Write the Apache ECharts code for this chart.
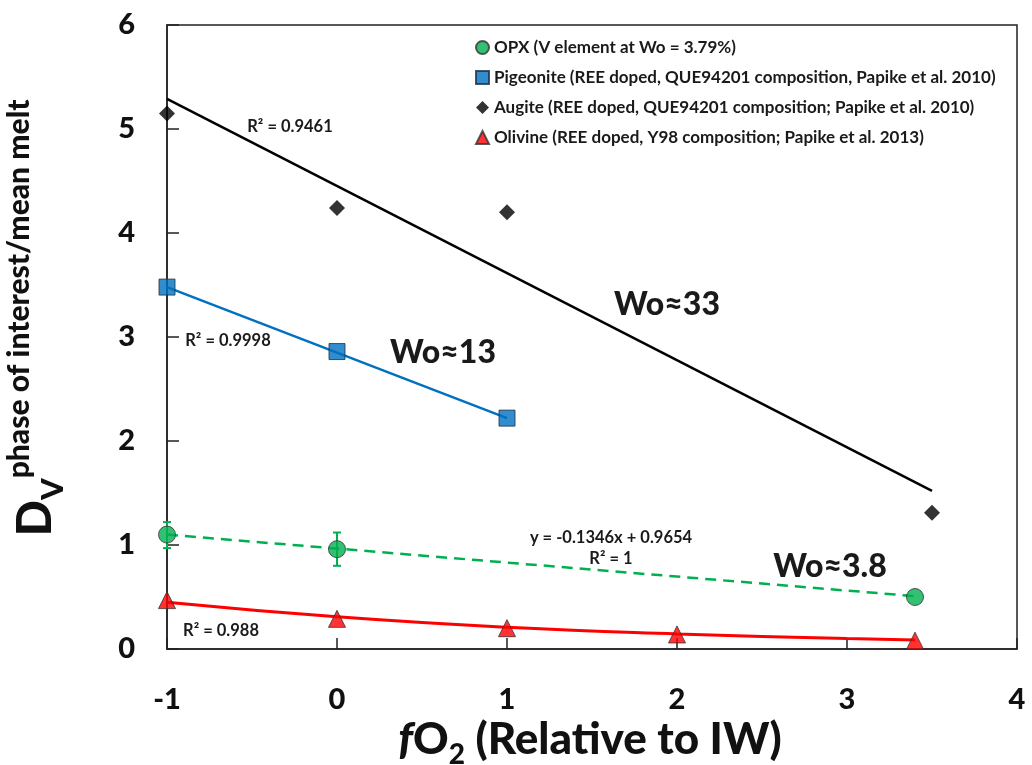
<!DOCTYPE html>
<html>
<head>
<meta charset="utf-8">
<script src="https://cdn.jsdelivr.net/npm/echarts/dist/echarts.min.js"></script>
<style>
  html, body { margin: 0; padding: 0; background: #fff; }
  #chart { width: 1032px; height: 765px; }
</style>
</head>
<body>
<div id="chart"></div>
<script>
// measured points
const augiteX = [-1, 0, 1, 3.5]
const augiteY = [5.15, 4.24, 4.2, 1.31]
const pigeoniteX = [-1, 0, 1]
const pigeoniteY = [3.48, 2.86, 2.22]
const opxX = [-1, 0, 3.4]
const opxY = [1.1, 0.96, 0.5]
const opxErrLow = [0.97, 0.8]
const opxErrHigh = [1.22, 1.12]
const olivineX = [-1, 0, 1, 2, 3.4]
const olivineY = [0.47, 0.29, 0.2, 0.14, 0.08]

// trend lines as drawn on the figure
const augiteFitX = [-1, 3.5]
const augiteFitY = [5.29, 1.52]
const pigeoniteFitX = [-1, 1]
const pigeoniteFitY = [3.48, 2.22]
const opxFitX = [-1, 3.4]
const opxFitY = [1.1, 0.508]
const olivineFitX = [-1, 0, 1, 2, 3, 3.4]
const olivineFitY = [0.45, 0.31, 0.21, 0.145, 0.1, 0.087]

const xTicks = [-1, 0, 1, 2, 3, 4]
const yTicks = [0, 1, 2, 3, 4, 5, 6]

const names = [
  'OPX (V element at Wo = 3.79%)',
  'Pigeonite (REE doped, QUE94201 composition, Papike et al. 2010)',
  'Augite (REE doped, QUE94201 composition; Papike et al. 2010)',
  'Olivine (REE doped, Y98 composition; Papike et al. 2013)'
]

const zip = (xs, ys) => xs.map((x, i) => [x, ys[i]])
const FONT = 'Lato, "Open Sans", sans-serif'

const chart = echarts.init(document.getElementById('chart'))

const annot = (text, x, y, size, weight) => ({
  type: 'text',
  x: x,
  y: y,
  style: {
    text: text,
    fontFamily: FONT,
    fontWeight: weight || 'bold',
    fontSize: size,
    fill: '#1a1a1a',
    align: 'center',
    verticalAlign: 'middle'
  },
  z: 100
})

const option = {
  animation: false,
  backgroundColor: '#fff',
  textStyle: { fontFamily: FONT },
  grid: {
    left: 167,
    right: 15,
    top: 25,
    bottom: 116,
    show: true,
    borderColor: '#222',
    borderWidth: 1.5
  },
  xAxis: {
    type: 'value',
    min: xTicks[0],
    max: xTicks[xTicks.length - 1],
    interval: 1,
    splitLine: { show: false },
    axisLine: { onZero: false, lineStyle: { color: '#222', width: 1.5 } },
    axisTick: { inside: true, length: 11, lineStyle: { color: '#222', width: 1.5 } },
    axisLabel: {
      margin: 36,
      fontSize: 29,
      fontWeight: 900,
      fontFamily: FONT,
      color: '#111'
    }
  },
  yAxis: {
    type: 'value',
    min: yTicks[0],
    max: yTicks[yTicks.length - 1],
    interval: 1,
    splitLine: { show: false },
    axisLine: { onZero: false, lineStyle: { color: '#222', width: 1.5 } },
    axisTick: { inside: true, length: 12, lineStyle: { color: '#222', width: 1.5 } },
    axisLabel: {
      margin: 32,
      fontSize: 29,
      fontWeight: 900,
      fontFamily: FONT,
      color: '#111'
    }
  },
  legend: {
    orient: 'vertical',
    left: 470,
    top: 34,
    itemGap: 13,
    itemWidth: 13,
    itemHeight: 13,
    data: names,
    textStyle: {
      fontFamily: FONT,
      fontSize: 17,
      fontWeight: 'bold',
      color: '#1a1a1a'
    }
  },
  graphic: [
    // y axis title
    {
      type: 'text',
      x: 36,
      y: 318,
      rotation: Math.PI / 2,
      style: {
        text: '{d|D}{v|V}{s|phase of interest/mean melt}',
        align: 'center',
        verticalAlign: 'middle',
        fill: '#111',
        rich: {
          d: { fontFamily: FONT, fontWeight: 900, fontSize: 48, lineHeight: 64, verticalAlign: 'middle' },
          v: { fontFamily: FONT, fontWeight: 900, fontSize: 31, lineHeight: 64, verticalAlign: 'bottom' },
          s: { fontFamily: FONT, fontWeight: 900, fontSize: 30, lineHeight: 64, verticalAlign: 'top' }
        }
      }
    },
    // x axis title
    {
      type: 'text',
      x: 590,
      y: 740,
      style: {
        text: '{i|f}{n|O}{b|2}{n| (Relative to IW)}',
        align: 'center',
        verticalAlign: 'middle',
        fill: '#111',
        rich: {
          i: { fontFamily: FONT, fontWeight: 900, fontStyle: 'italic', fontSize: 44, lineHeight: 58, verticalAlign: 'middle' },
          n: { fontFamily: FONT, fontWeight: 900, fontSize: 44, lineHeight: 58, verticalAlign: 'middle' },
          b: { fontFamily: FONT, fontWeight: 900, fontSize: 28, lineHeight: 58, verticalAlign: 'bottom' }
        }
      }
    },
    annot('R² = 0.9461', 290, 127, 16.5),
    annot('R² = 0.9998', 228, 341, 16.5),
    annot('R² = 0.988', 221, 631, 16.5),
    annot('y = -0.1346x + 0.9654', 611, 538, 16.5),
    annot('R² = 1', 611, 559, 16.5),
    annot('Wo≈33', 667, 305, 32, 900),
    annot('Wo≈13', 443, 353, 32, 900),
    annot('Wo≈3.8', 830, 567, 32, 900)
  ],
  series: [
    {
      name: 'augite fit',
      type: 'line',
      data: zip(augiteFitX, augiteFitY),
      showSymbol: false,
      lineStyle: { color: '#000', width: 2.5 },
      z: 1
    },
    {
      name: 'pigeonite fit',
      type: 'line',
      data: zip(pigeoniteFitX, pigeoniteFitY),
      showSymbol: false,
      lineStyle: { color: '#0070C0', width: 2.5 },
      z: 1
    },
    {
      name: 'opx fit',
      type: 'line',
      data: zip(opxFitX, opxFitY),
      showSymbol: false,
      lineStyle: { color: '#00B050', width: 2.5, type: [11, 7] },
      z: 1
    },
    {
      name: 'olivine fit',
      type: 'line',
      data: zip(olivineFitX, olivineFitY),
      smooth: true,
      showSymbol: false,
      lineStyle: { color: '#FF0000', width: 3 },
      z: 1
    },
    {
      name: 'opx error',
      type: 'custom',
      data: opxErrLow.map((lo, i) => [opxX[i], lo, opxErrHigh[i]]),
      encode: { x: 0, y: [1, 2] },
      z: 2,
      renderItem: function (params, api) {
        const x = api.value(0)
        const p1 = api.coord([x, api.value(1)])
        const p2 = api.coord([x, api.value(2)])
        const w = 4
        const st = { stroke: '#00B050', lineWidth: 2 }
        return {
          type: 'group',
          children: [
            { type: 'line', shape: { x1: p1[0], y1: p1[1], x2: p2[0], y2: p2[1] }, style: st },
            { type: 'line', shape: { x1: p1[0] - w, y1: p1[1], x2: p1[0] + w, y2: p1[1] }, style: st },
            { type: 'line', shape: { x1: p2[0] - w, y1: p2[1], x2: p2[0] + w, y2: p2[1] }, style: st }
          ]
        }
      }
    },
    {
      name: names[0],
      type: 'scatter',
      data: zip(opxX, opxY),
      symbol: 'circle',
      symbolSize: 17,
      itemStyle: { color: '#00B050', borderColor: '#333', borderWidth: 1 },
      z: 5
    },
    {
      name: names[1],
      type: 'scatter',
      data: zip(pigeoniteX, pigeoniteY),
      symbol: 'rect',
      symbolSize: 16,
      itemStyle: { color: '#0070C0', borderColor: '#1a2f4a', borderWidth: 1 },
      z: 5
    },
    {
      name: names[2],
      type: 'scatter',
      data: zip(augiteX, augiteY),
      symbol: 'diamond',
      symbolSize: 16,
      itemStyle: { color: '#000' },
      z: 5
    },
    {
      name: names[3],
      type: 'scatter',
      data: zip(olivineX, olivineY),
      symbol: 'triangle',
      symbolSize: 17,
      itemStyle: { color: '#FF0000', borderColor: '#333', borderWidth: 1 },
      z: 5
    }
  ]
}

chart.setOption(option)
</script>
</body>
</html>
